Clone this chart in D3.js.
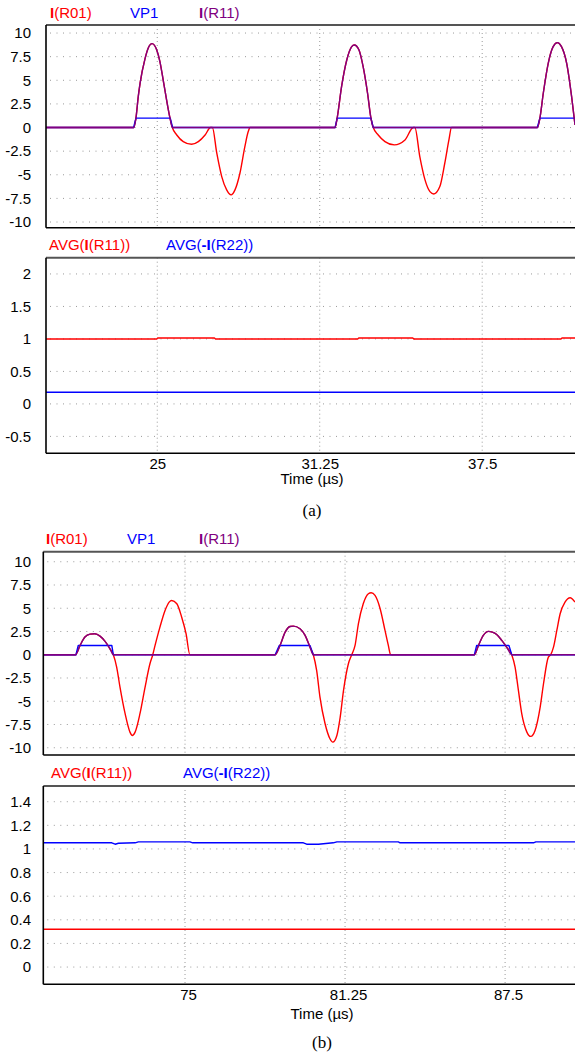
<!DOCTYPE html>
<html lang="en">
<head>
<meta charset="UTF-8">
<title>Waveforms (a) and (b)</title>
<script src="https://d3js.org/d3.v7.min.js"></script>
<style>
  body { margin: 0; background: #fff; }
  svg text { font-family: "Liberation Sans", Arial, sans-serif; font-size: 15px; fill: #000; }
  svg text.caption { font-family: "Liberation Serif", "Times New Roman", serif; font-size: 17px; }
</style>
</head>
<body>
<svg width="575" height="1055"></svg>
<script>
// ---- tick values ----
var waveTicks = [10, 7.5, 5, 2.5, 0, -2.5, -5, -7.5, -10];
var avgTicksA = [2, 1.5, 1, 0.5, 0, -0.5];
var avgTicksB = [1.4, 1.2, 1, 0.8, 0.6, 0.4, 0.2, 0];
var timeTicksA = [25, 31.25, 37.5];
var timeTicksB = [75, 81.25, 87.5];

// ---- (a) waveforms: [time us, value] ----
var aIR11 = [[20.72,0],[24.09,0],[24.18,1.0],[24.27,3.3],[24.34,4.7],[24.53,7.3],[24.65,8.4],[24.8,8.88],[24.98,8.2],[25.1,7.0],[25.23,5.0],[25.36,2.9],[25.49,1.0],[25.58,0],
  [31.84,0],[31.92,1.0],[32.09,4.33],[32.29,7.15],[32.48,8.56],[32.58,8.74],[32.76,8.21],[32.92,6.44],[33.09,3.63],[33.22,1.0],[33.31,0],
  [39.62,0],[39.72,1.0],[39.85,3.63],[40.04,6.8],[40.23,8.56],[40.39,8.98],[40.55,8.56],[40.75,6.8],[40.94,3.27],[41.07,0.28]];
var aIR01Neg = [[25.75,-0.79],[26.0,-1.49],[26.32,-1.77],[26.58,-1.49],[26.84,-0.79],[27.05,0],[27.12,0],[27.29,-2.72],[27.48,-5.19],[27.67,-6.6],[27.84,-7.13],[27.99,-6.6],[28.18,-4.84],[28.37,-2.02],[28.5,-0.43],[28.57,0],
  [33.5,-0.79],[33.76,-1.49],[34.12,-1.84],[34.53,-1.32],[34.85,0],[34.91,0],[35.1,-3.08],[35.3,-5.54],[35.49,-6.78],[35.64,-7.03],[35.87,-6.25],[36.06,-3.78],[36.22,-1.31],[36.32,0]];
var aVP1 = [[20.72,0],[24.09,0],[24.18,1],[25.5,1],[25.59,0],[31.84,0],[31.92,1],[33.22,1],[33.31,0],[39.62,0],[39.72,1],[41.07,1]];
var aAvgIR11 = [[20.72,1.0],[24.98,1.0],[25.02,1.015],[27.2,1.015],[27.24,1.0],[32.71,1.0],[32.75,1.015],[34.83,1.015],[34.87,1.0],[40.53,1.0],[40.57,1.015],[41.07,1.015]];
var aAvgIR22 = [[20.72,0.18],[41.07,0.18]];

// ---- (b) waveforms ----
var bIR11 = [[69.465,0],[70.72,0],[70.9,1.0],[71.09,1.9],[71.29,2.22],[71.48,2.26],[71.68,2.0],[71.87,1.46],[72.07,0.64],[72.2,0],
  [78.52,0],[78.71,1.0],[78.91,2.43],[79.1,3.04],[79.23,3.08],[79.49,2.8],[79.69,2.08],[79.88,0.82],[80.01,0],
  [86.3,0],[86.46,1.0],[86.65,2.08],[86.85,2.51],[87.0,2.43],[87.17,2.18],[87.37,1.54],[87.56,0.82],[87.76,0],[90.23,0]];
var bIR01Neg = [[72.33,-1.33],[72.46,-3.48],[72.66,-6.34],[72.85,-8.32],[72.94,-8.68],[73.05,-8.32],[73.24,-6.34],[73.44,-3.48],[73.63,-0.97],[73.74,0],[73.83,1.0],[74.02,2.97],[74.22,4.76],[74.38,5.66],[74.48,5.84],[74.68,5.48],[74.87,4.04],[75.04,2.26],[75.19,0],
  [80.14,-1.69],[80.27,-4.56],[80.47,-7.42],[80.66,-9.03],[80.77,-9.4],[80.93,-8.68],[81.06,-6.71],[81.19,-3.84],[81.38,-0.97],[81.51,0],[81.64,1.0],[81.77,3.33],[81.96,5.48],[82.16,6.56],[82.27,6.67],[82.42,6.38],[82.62,4.95],[82.81,2.61],[82.94,1.0],[83.03,0],
  [87.89,-1.33],[88.02,-3.84],[88.15,-6.34],[88.35,-8.32],[88.5,-8.78],[88.67,-8.14],[88.87,-5.63],[89.0,-3.12],[89.19,-0.25],[89.28,0],[89.39,0.82],[89.52,2.61],[89.65,4.41],[89.84,5.66],[90.04,6.13],[90.23,5.66]];
var bVP1 = [[69.465,0],[70.74,0],[70.83,1],[72.14,1],[72.2,0],[78.52,0],[78.68,1],[79.88,1],[80.01,0],[86.3,0],[86.39,1],[87.65,1],[87.76,0],[90.23,0]];
var bAvgIR11 = [[69.465,0.32],[90.23,0.32]];
var bAvgIR22 = [[69.465,1.052],[72.14,1.052],[72.27,1.04],[72.4,1.048],[73.05,1.052],[73.18,1.06],[75.19,1.06],[75.3,1.052],[79.62,1.052],[79.75,1.04],[80.21,1.04],[80.79,1.052],[80.93,1.06],[83.33,1.06],[83.4,1.052],[88.61,1.052],[88.7,1.06],[90.23,1.06]];

// red trace = purple pulse plus the negative excursions (excursion wins on equal time)
function merge(a, b) {
  var tb = new Set(b.map(function(p) { return p[0]; }));
  return a.filter(function(p) { return !tb.has(p[0]); }).concat(b)
    .sort(function(p, q) { return p[0] - q[0]; });
}

var RED = "#ff0000", BLUE = "#0000ff", PURPLE = "#800080";
var W = 575;
var svg = d3.select("svg");
var clipId = 0;

function panel(o) {
  var x = d3.scaleLinear().domain(o.xDomain).range([o.left, W]);
  var y = d3.scaleLinear().domain(o.yDomain).range([o.bottom, o.top]);
  var g = svg.append("g");

  // horizontal dotted grid
  g.append("g").selectAll("line").data(o.yTicks).join("line")
    .attr("x1", o.left + 4).attr("x2", W)
    .attr("y1", d => y(d)).attr("y2", d => y(d))
    .attr("stroke", "#9a9a9a").attr("stroke-width", 1).attr("stroke-dasharray", "1,5.5");
  // vertical dotted grid
  g.append("g").selectAll("line").data(o.xTicks).join("line")
    .attr("x1", d => x(d)).attr("x2", d => x(d))
    .attr("y1", o.top).attr("y2", o.bottom)
    .attr("stroke", "#9a9a9a").attr("stroke-width", 1).attr("stroke-dasharray", "1,3");

  // y labels
  var ya = g.append("g").attr("transform", "translate(" + o.left + ",0)")
    .call(d3.axisLeft(y).tickValues(o.yTicks).tickSize(0).tickPadding(o.left - 31).tickFormat(d => String(d)));
  ya.select(".domain").remove();
  ya.selectAll("text").attr("font-size", null).attr("font-family", null);

  // x labels
  if (o.showX) {
    var xa = g.append("g").attr("transform", "translate(0," + o.bottom + ")")
      .call(d3.axisBottom(x).tickValues(o.xTicks).tickSize(0).tickPadding(5).tickFormat(d => String(d)));
    xa.select(".domain").remove();
    xa.selectAll("text").attr("font-size", null).attr("font-family", null).attr("dx", o.xdx || 0);
  }

  // traces
  var id = "clip" + (clipId++);
  svg.append("clipPath").attr("id", id).append("rect")
    .attr("x", o.left).attr("y", o.top).attr("width", W - o.left).attr("height", o.bottom - o.top);
  var tg = g.append("g").attr("clip-path", "url(#" + id + ")");
  o.series.forEach(function(s) {
    var line = d3.line().x(d => x(d[0])).y(d => y(d[1]))
      .curve(s.smooth ? d3.curveMonotoneX : d3.curveLinear);
    tg.append("path").datum(s.data).attr("d", line)
      .attr("fill", "none").attr("stroke", s.color).attr("stroke-width", 1.4)
      .attr("stroke-linejoin", "round");
  });

  // frame
  g.append("line").attr("x1", o.left).attr("x2", W).attr("y1", o.top).attr("y2", o.top)
    .attr("stroke", "#555").attr("stroke-width", 2);
  g.append("line").attr("x1", o.left).attr("x2", W).attr("y1", o.bottom).attr("y2", o.bottom)
    .attr("stroke", "#000").attr("stroke-width", 1.6);
  g.append("line").attr("x1", o.left).attr("x2", o.left).attr("y1", o.top).attr("y2", o.bottom)
    .attr("stroke", "#000").attr("stroke-width", 1.6);

  // legend
  o.legend.forEach(function(l) {
    var t = g.append("text").attr("x", l.x).attr("y", o.legendY).style("fill", l.color);
    l.parts.forEach(function(p) {
      t.append("tspan").text(p[0]).attr("font-weight", p[1] ? "bold" : null).style("fill", l.color);
    });
  });
}

function caption(x, yTime, yCap, letter) {
  svg.append("text").attr("x", x).attr("y", yTime).attr("text-anchor", "middle").text("Time (\u00b5s)");
  svg.append("text").attr("class", "caption").attr("x", x).attr("y", yCap).attr("text-anchor", "middle").text(letter);
}

// (a) top
panel({ left: 46, top: 25, bottom: 227.7, xDomain: [20.72, 41.07], yDomain: [-10.6, 10.85],
  yTicks: waveTicks, xTicks: timeTicksA, showX: false, legendY: 18,
  legend: [
    { x: 50, color: RED, parts: [["I", true], ["(R01)", false]] },
    { x: 130, color: BLUE, parts: [["VP1", false]] },
    { x: 199, color: PURPLE, parts: [["I", true], ["(R11)", false]] }
  ],
  series: [
    { data: merge(aIR11, aIR01Neg), color: RED, smooth: true },
    { data: aVP1, color: BLUE },
    { data: aIR11, color: PURPLE, smooth: true }
  ] });

// (a) bottom
panel({ left: 46, top: 257.7, bottom: 453.3, xDomain: [20.72, 41.07], yDomain: [-0.76, 2.25],
  yTicks: avgTicksA, xTicks: timeTicksA, showX: true, legendY: 250,
  legend: [
    { x: 49, color: RED, parts: [["AVG(", false], ["I", true], ["(R11))", false]] },
    { x: 166, color: BLUE, parts: [["AVG(", false], ["-I", true], ["(R22))", false]] }
  ],
  series: [
    { data: aAvgIR11, color: RED },
    { data: aAvgIR22, color: BLUE }
  ] });
caption(312, 484, 516, "(a)");

// (b) top
panel({ left: 43.3, top: 551.7, bottom: 755, xDomain: [69.465, 90.23], yDomain: [-10.78, 11.08],
  yTicks: waveTicks, xTicks: timeTicksB, showX: false, legendY: 544,
  legend: [
    { x: 46, color: RED, parts: [["I", true], ["(R01)", false]] },
    { x: 127, color: BLUE, parts: [["VP1", false]] },
    { x: 199, color: PURPLE, parts: [["I", true], ["(R11)", false]] }
  ],
  series: [
    { data: merge(bIR11, bIR01Neg), color: RED, smooth: true },
    { data: bVP1, color: BLUE },
    { data: bIR11, color: PURPLE, smooth: true }
  ] });

// (b) bottom
panel({ left: 43.3, top: 786, bottom: 984.3, xDomain: [69.465, 90.23], yDomain: [-0.146, 1.533],
  yTicks: avgTicksB, xTicks: timeTicksB, showX: true, xdx: 3, legendY: 778,
  legend: [
    { x: 51, color: RED, parts: [["AVG(", false], ["I", true], ["(R11))", false]] },
    { x: 183, color: BLUE, parts: [["AVG(", false], ["-I", true], ["(R22))", false]] }
  ],
  series: [
    { data: bAvgIR11, color: RED },
    { data: bAvgIR22, color: BLUE }
  ] });
caption(322, 1019, 1048, "(b)");
</script>
</body>
</html>
